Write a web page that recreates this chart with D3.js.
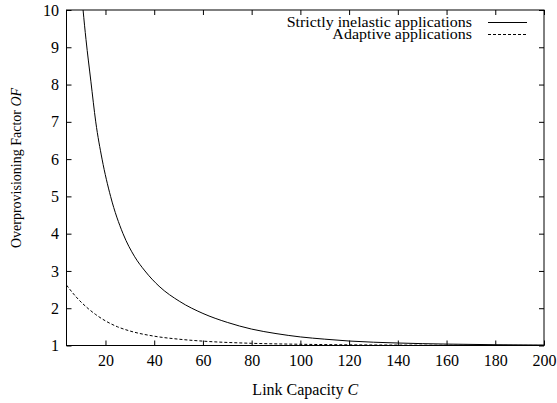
<!DOCTYPE html>
<html>
<head>
<meta charset="utf-8">
<script src="https://cdn.jsdelivr.net/npm/d3@7"></script>
<style>
  body { margin: 0; background: #fff; }
  svg text { font-family: "Liberation Serif", "Times New Roman", serif; fill: #000; }
  .tick text { font-size: 16px; }
  .tick line { stroke: #000; }
  .domain { display: none; }
</style>
</head>
<body>
<svg width="557" height="403"></svg>
<script>
// Link capacity C and overprovisioning factor
let inelasticC  = [10, 10.8, 12, 14, 16, 18.6, 22.1, 27.2, 32, 36.2, 42, 50.5, 60, 70, 80, 90, 100, 110, 120, 140, 160, 180, 200];
let inelasticOF = [10.59, 10.0, 9.21, 8.09, 7.0, 6.0, 5.0, 4.0, 3.38, 3.0, 2.59, 2.18, 1.86, 1.62, 1.44, 1.32, 1.23, 1.17, 1.12, 1.067, 1.038, 1.021, 1.012];

let adaptiveC  = [4, 8, 12.9, 16, 20, 25, 30, 40, 50, 60, 80, 100, 120, 140, 160, 180, 200];
let adaptiveOF = [2.62, 2.30, 1.99, 1.83, 1.66, 1.50, 1.39, 1.25, 1.17, 1.117, 1.059, 1.033, 1.018, 1.011, 1.006, 1.0035, 1.002];

let xTicks = [20, 40, 60, 80, 100, 120, 140, 160, 180, 200];
let yTicks = [1, 2, 3, 4, 5, 6, 7, 8, 9, 10];

let seriesNames = ["Strictly inelastic applications", "Adaptive applications"];

let serif = '"Liberation Serif", "Times New Roman", serif';
let plotLeft = 66.5, plotRight = 544, plotTop = 10, plotBottom = 345.5;

let xScale = d3.scaleLinear().domain([4, 200]).range([plotLeft, plotRight]);
let yScale = d3.scaleLinear().domain([1, 10]).range([plotBottom, plotTop]);

let svg = d3.select('svg');

svg.append('clipPath')
  .attr('id', 'plot-clip')
  .append('rect')
  .attr('x', plotLeft)
  .attr('y', plotTop)
  .attr('width', plotRight - plotLeft)
  .attr('height', plotBottom - plotTop);

// axes, ticks pointing inward, mirrored on top and right
svg.append('g')
  .attr('transform', `translate(0, ${plotBottom})`)
  .call(d3.axisBottom(xScale).tickValues(xTicks).tickSize(-5).tickPadding(9))
  .attr('font-family', serif)
  .attr('font-size', 16);
svg.append('g')
  .attr('transform', `translate(0, ${plotTop})`)
  .call(d3.axisTop(xScale).tickValues(xTicks).tickSize(-5).tickFormat(''));
svg.append('g')
  .attr('transform', `translate(${plotLeft}, 0)`)
  .call(d3.axisLeft(yScale).tickValues(yTicks).tickSize(-5).tickPadding(7.5))
  .attr('font-family', serif)
  .attr('font-size', 16);
svg.append('g')
  .attr('transform', `translate(${plotRight}, 0)`)
  .call(d3.axisRight(yScale).tickValues(yTicks).tickSize(-5).tickFormat(''));

let inelastic = inelasticC.map((c, i) => ({ c: c, v: inelasticOF[i] }));
let adaptive = adaptiveC.map((c, i) => ({ c: c, v: adaptiveOF[i] }));

let line = d3.line()
  .x(d => xScale(d.c))
  .y(d => yScale(d.v))
  .curve(d3.curveMonotoneX);

let plot = svg.append('g').attr('clip-path', 'url(#plot-clip)');

plot.append('path')
  .datum(inelastic)
  .attr('d', line)
  .attr('fill', 'none')
  .attr('stroke', '#000')
  .attr('stroke-width', 1);

plot.append('path')
  .datum(adaptive)
  .attr('d', line)
  .attr('fill', 'none')
  .attr('stroke', '#000')
  .attr('stroke-width', 1)
  .attr('stroke-dasharray', '3,2');

// frame
svg.append('rect')
  .attr('x', plotLeft)
  .attr('y', plotTop)
  .attr('width', plotRight - plotLeft)
  .attr('height', plotBottom - plotTop)
  .attr('fill', 'none')
  .attr('stroke', '#000')
  .attr('stroke-width', 1);

// legend - the original glyphs look a bit wider than tall, so stretch them
let legend = svg.append('g')
  .attr('font-family', serif);
seriesNames.forEach((name, i) => {
  let y = 22.5 + i * 12;
  let label = legend.append('text')
    .attr('x', 472)
    .attr('y', y + 4.5)
    .attr('text-anchor', 'end')
    .attr('font-size', 14)
    .text(name);
  label
    .attr('textLength', label.node().getComputedTextLength() * 1.14)
    .attr('lengthAdjust', 'spacingAndGlyphs');
  legend.append('line')
    .attr('x1', 488)
    .attr('x2', 527)
    .attr('y1', y)
    .attr('y2', y)
    .attr('stroke', '#000')
    .attr('stroke-width', 1)
    .attr('stroke-dasharray', i == 1 ? '3,2' : null);
});

// axis titles
let xTitle = svg.append('text')
  .attr('x', (plotLeft + plotRight) / 2)
  .attr('y', 395)
  .attr('text-anchor', 'middle')
  .attr('font-size', 16);
xTitle.append('tspan').text('Link Capacity ');
xTitle.append('tspan').attr('font-style', 'italic').text('C');

let yTitle = svg.append('text')
  .attr('transform', 'translate(21, 168) rotate(-90)')
  .attr('text-anchor', 'middle')
  .attr('font-size', 14);
yTitle.append('tspan').text('Overprovisioning Factor ');
yTitle.append('tspan').attr('font-style', 'italic').text('OF');
</script>
</body>
</html>
